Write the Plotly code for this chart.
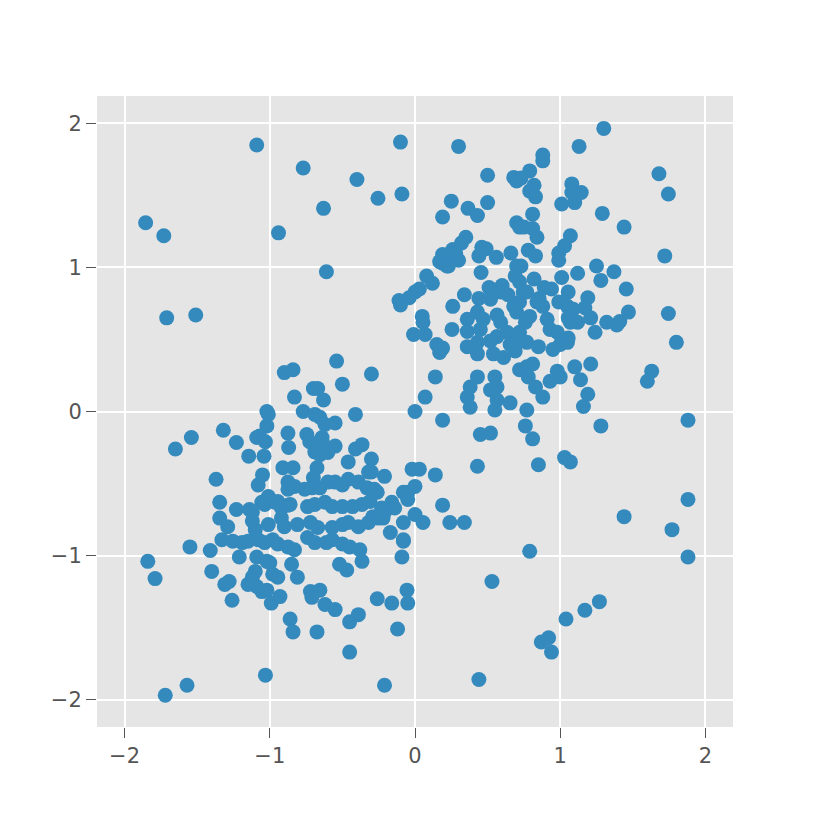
import plotly.graph_objects as go

# points, (x, y) per point
upper_cluster = [
    (0.30, 1.84), (0.50, 1.64), (0.68, 1.625), (0.70, 1.60), (0.25, 1.46), (0.365, 1.41),
    (0.43, 1.36), (0.50, 1.45), (0.19, 1.35), (0.70, 1.31), (0.72, 1.28), (0.35, 1.21),
    (0.32, 1.17), (0.46, 1.14), (0.49, 1.13), (0.44, 1.08), (0.56, 1.07), (0.66, 1.10),
    (0.21, 1.07), (0.19, 1.03), (0.28, 1.10), (0.30, 1.05), (0.23, 1.01), (0.455, 0.965),
    (0.08, 0.94), (0.12, 0.89), (0.03, 0.85), (-0.04, 0.79), (-0.11, 0.77), (0.34, 0.81),
    (0.51, 0.86), (0.60, 0.875), (0.44, 0.785), (0.53, 0.81), (1.30, 1.965), (1.13, 1.84),
    (0.88, 1.78), (0.88, 1.74), (0.79, 1.67), (0.73, 1.62), (0.82, 1.57), (0.79, 1.53),
    (0.83, 1.49), (1.08, 1.58), (1.08, 1.52), (1.145, 1.52), (1.10, 1.45), (1.01, 1.44),
    (1.68, 1.65), (1.745, 1.51), (1.29, 1.375), (1.44, 1.28), (0.81, 1.37), (0.75, 1.28),
    (0.81, 1.27), (0.84, 1.21), (1.07, 1.22), (1.03, 1.15), (0.99, 1.10), (0.99, 1.05),
    (0.78, 1.12), (0.83, 1.08), (0.73, 1.01), (1.72, 1.08), (1.25, 1.01), (1.37, 0.97),
    (1.12, 0.96), (1.01, 0.93), (1.28, 0.91), (1.455, 0.85), (0.82, 0.92), (0.89, 0.86),
    (0.94, 0.85), (1.055, 0.83), (1.19, 0.79), (0.855, 0.785), (0.99, 0.76), (0.745, 0.83),
    (0.72, 0.76), (0.84, 0.76), (0.88, 0.73), (1.05, 0.73), (1.09, 0.71), (1.17, 0.72),
    (0.79, 0.66), (0.76, 0.62), (0.72, 0.55), (0.91, 0.64), (0.93, 0.57), (0.98, 0.55),
    (1.055, 0.65), (1.07, 0.62), (1.12, 0.62), (1.21, 0.65), (1.32, 0.62), (1.39, 0.60),
    (1.41, 0.625), (1.47, 0.69), (1.24, 0.55), (0.72, 0.49), (0.85, 0.45), (1.055, 0.51),
    (1.05, 0.48), (1.745, 0.68), (1.80, 0.48), (1.63, 0.28), (1.60, 0.21), (0.26, 1.125),
    (0.19, 1.09), (0.17, 1.04), (0.22, 1.01), (0.0, 0.83), (-0.10, 0.74), (0.70, 1.01),
    (0.69, 0.94), (0.26, 0.73), (0.52, 0.78), (0.59, 0.83), (0.64, 0.81), (0.72, 0.90),
    (0.77, 0.83), (0.68, 0.73), (0.70, 0.69), (0.43, 0.69), (0.36, 0.64), (0.47, 0.64),
    (0.565, 0.67), (0.59, 0.62), (0.05, 0.66), (0.055, 0.62), (0.255, 0.57), (-0.01, 0.535),
    (0.07, 0.535), (0.36, 0.555), (0.45, 0.57), (0.565, 0.52), (0.635, 0.55), (0.71, 0.535),
    (0.15, 0.465), (0.19, 0.44), (0.43, 0.48), (0.52, 0.49), (0.655, 0.465), (0.77, 0.48),
    (0.17, 0.41), (0.14, 0.24), (0.07, 0.10), (0.0, 0.0), (0.19, -0.06), (0.43, 0.40),
    (0.36, 0.45), (0.54, 0.40), (0.61, 0.375), (0.69, 0.42), (0.95, 0.43), (1.0, 0.465),
    (0.43, 0.24), (0.38, 0.17), (0.36, 0.10), (0.38, 0.03), (0.55, 0.24), (0.565, 0.17),
    (0.52, 0.15), (0.565, 0.08), (0.55, 0.01), (0.655, 0.06), (0.72, 0.29), (0.77, 0.31),
    (0.81, 0.33), (0.78, 0.24), (0.83, 0.17), (0.88, 0.10), (0.77, 0.01), (0.93, 0.21),
    (0.98, 0.28), (1.0, 0.24), (1.10, 0.31), (1.21, 0.33), (1.14, 0.22), (1.19, 0.12),
    (1.16, 0.035), (1.28, -0.10), (0.76, -0.10), (0.81, -0.19), (0.45, -0.16), (0.52, -0.15),
    (0.85, -0.37), (1.03, -0.32), (1.07, -0.35), (0.43, -0.38),
]

lower_cluster = [
    (-0.90, 0.27), (-0.84, 0.29), (-0.54, 0.35), (-0.30, 0.26), (-0.50, 0.19), (-0.70, 0.16),
    (-0.67, 0.16), (-0.63, 0.08), (-0.83, 0.10), (-1.02, 0.0), (-1.01, -0.02), (-0.77, 0.0),
    (-0.69, -0.02), (-0.655, -0.04), (-0.62, -0.09), (-0.55, -0.08), (-0.41, -0.02), (-1.32, -0.13),
    (-1.54, -0.18), (-1.23, -0.215), (-1.07, -0.17), (-1.02, -0.10), (-1.09, -0.18), (-1.03, -0.21),
    (-0.875, -0.15), (-0.745, -0.16), (-0.725, -0.21), (-0.64, -0.18), (-0.63, -0.23), (-0.87, -0.25),
    (-0.55, -0.24), (-0.69, -0.28), (-0.655, -0.30), (-0.60, -0.285), (-0.41, -0.26), (-0.365, -0.23),
    (-0.30, -0.33), (-0.46, -0.35), (-1.145, -0.31), (-1.04, -0.31), (-0.91, -0.39), (-0.84, -0.39),
    (-0.675, -0.39), (-0.70, -0.46), (-0.21, -0.45), (-0.32, -0.42), (-0.30, -0.42), (-0.02, -0.40),
    (0.03, -0.40), (-1.37, -0.47), (-1.05, -0.44), (-1.08, -0.51), (-1.65, -0.26), (-0.875, -0.49),
    (-0.875, -0.54), (-0.83, -0.52), (-0.76, -0.54), (-0.71, -0.53), (-0.655, -0.53), (-0.60, -0.49),
    (-0.55, -0.49), (-0.50, -0.51), (-0.46, -0.47), (-0.39, -0.49), (-0.33, -0.53), (-0.26, -0.56),
    (-0.08, -0.56), (-0.05, -0.56), (0.14, -0.44), (-0.28, -0.54), (0.0, -0.52), (-0.055, -0.58),
    (-0.16, -0.63), (-0.14, -0.67), (-0.21, -0.70), (0.19, -0.65), (-0.31, -0.625), (-0.29, -0.73),
    (-0.22, -0.74), (0.0, -0.715), (-0.08, -0.77), (0.055, -0.77), (0.24, -0.77), (0.34, -0.77),
    (-0.17, -0.84), (-0.08, -0.89), (-1.345, -0.63), (-1.23, -0.68), (-1.14, -0.68), (-1.01, -0.59),
    (-1.055, -0.63), (-0.945, -0.625), (-0.875, -0.65), (-0.74, -0.66), (-0.62, -0.63), (-0.57, -0.66),
    (-0.50, -0.66), (-0.43, -0.66), (-0.23, -0.67), (-1.345, -0.74), (-1.29, -0.80), (-1.12, -0.70),
    (-1.12, -0.76), (-1.10, -0.82), (-1.035, -0.645), (-0.965, -0.63), (-0.92, -0.67), (-0.86, -0.645),
    (-1.01, -0.785), (-0.92, -0.74), (-0.90, -0.80), (-0.81, -0.785), (-0.69, -0.645), (-0.365, -0.645),
    (-0.05, -0.61), (-0.72, -0.77), (-0.67, -0.805), (-0.57, -0.805), (-0.50, -0.785), (-0.46, -0.77),
    (-0.39, -0.80), (-0.32, -0.77), (-0.255, -0.74), (-1.55, -0.94), (-1.41, -0.965), (-1.33, -0.89),
    (-1.255, -0.90), (-1.19, -0.91), (-1.15, -0.90), (-1.08, -0.89), (-1.035, -0.91), (-0.98, -0.89),
    (-0.945, -0.92), (-0.875, -0.94), (-0.83, -0.96), (-0.74, -0.875), (-0.69, -0.91), (-0.61, -0.91),
    (-0.57, -0.89), (-0.50, -0.92), (-0.45, -0.94), (-0.38, -0.96), (-0.08, -0.90), (-0.09, -1.01),
    (-1.21, -1.01), (-1.09, -1.01), (-1.02, -1.04), (-1.0, -1.05), (-0.85, -1.06), (-0.81, -1.15),
    (-0.365, -1.04), (-0.52, -1.06), (-0.47, -1.10), (-1.40, -1.11), (-1.10, -1.11), (-1.12, -1.15),
    (-0.98, -1.13), (-0.945, -1.15), (-1.31, -1.20), (-1.28, -1.18), (-1.15, -1.20), (-1.09, -1.215),
    (-1.055, -1.25), (-1.02, -1.24), (-1.26, -1.31), (-0.99, -1.33), (-0.93, -1.285), (-0.72, -1.25),
    (-0.655, -1.24), (-0.71, -1.29), (-0.62, -1.34), (-0.55, -1.375), (-0.45, -1.46), (-0.39, -1.41),
    (-0.86, -1.44), (-0.84, -1.53), (-0.675, -1.53), (-0.26, -1.30), (-0.16, -1.33), (-0.055, -1.24),
    (-0.05, -1.33), (-0.12, -1.51), (-0.45, -1.67), (-1.84, -1.04), (-1.79, -1.16),
]

scattered = [
    (-1.855, 1.31), (-1.73, 1.22), (-1.71, 0.65), (-1.51, 0.67), (-1.09, 1.85), (-0.94, 1.24),
    (-0.77, 1.69), (-0.63, 1.41), (-0.61, 0.97), (-0.40, 1.61), (-0.255, 1.48), (-0.10, 1.87),
    (-0.09, 1.51), (-1.03, -1.83), (-1.57, -1.90), (-1.72, -1.97), (-0.21, -1.90), (0.53, -1.18),
    (0.44, -1.86), (0.79, -0.97), (1.44, -0.73), (1.77, -0.82), (1.88, -1.01), (1.27, -1.32),
    (1.17, -1.38), (1.04, -1.44), (0.87, -1.60), (0.92, -1.57), (0.94, -1.67), (1.88, -0.61),
    (1.88, -0.06),
]

tick_vals = [-2, -1, 0, 1, 2]

points = upper_cluster + lower_cluster + scattered
xs = [p[0] for p in points]
ys = [p[1] for p in points]

fig = go.Figure()
fig.add_trace(go.Scatter(
    x=xs, y=ys,
    mode='markers',
    marker=dict(size=15, color='#348ABD', line=dict(width=0)),
    showlegend=False,
))

axis_style = dict(
    range=[-2.19, 2.19],
    tickvals=tick_vals,
    showgrid=True,
    gridcolor='white',
    gridwidth=1.5,
    zeroline=False,
    showline=False,
    ticks='outside',
    ticklen=10,
    tickwidth=1.3,
    tickcolor='#555555',
    tickfont=dict(family='DejaVu Sans', size=21, color='#555555'),
)

# the page body adds 8px, so left/top margins are trimmed by that much
fig.update_layout(
    width=830, height=824,
    margin=dict(l=89, r=105, t=88, b=105),
    paper_bgcolor='white',
    plot_bgcolor='#E5E5E5',
    xaxis=axis_style,
    yaxis=axis_style,
)

fig.write_html("out.html")
